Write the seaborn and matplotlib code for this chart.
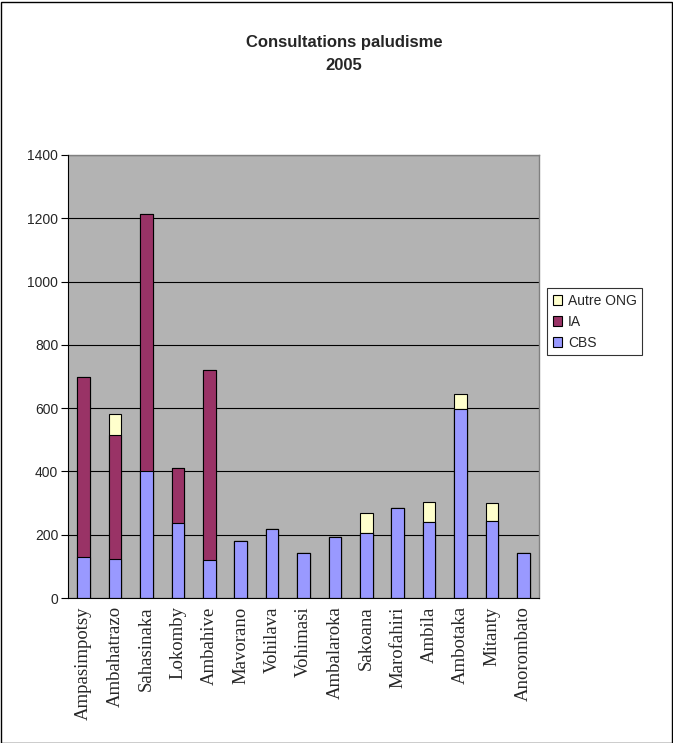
import matplotlib
matplotlib.use("Agg")
import matplotlib.pyplot as plt
from matplotlib.patches import Rectangle, Patch
import seaborn as sns
import pandas as pd
import numpy as np

categories = ["Ampasimpotsy", "Ambahatrazo", "Sahasinaka", "Lokomby", "Ambahive",
              "Mavorano", "Vohilava", "Vohimasi", "Ambalaroka", "Sakoana",
              "Marofahiri", "Ambila", "Ambotaka", "Mitanty", "Anorombato"]
cbs = [130, 122, 400, 237, 119, 180, 217, 143, 193, 206, 286, 240, 596, 244, 143]
ia = [570, 392, 813, 175, 600, 0, 0, 0, 0, 0, 0, 0, 0, 0, 0]
autre = [0, 66, 0, 0, 0, 0, 0, 0, 0, 63, 0, 63, 49, 55, 0]
yticks = [0, 200, 400, 600, 800, 1000, 1200, 1400]

c_cbs = "#9999FF"
c_ia = "#993366"
c_autre = "#FFFFCC"

df = pd.DataFrame({"cat": categories, "cbs": cbs, "ia": ia, "autre": autre})
df["lvl2"] = df["cbs"] + df["ia"]
df["lvl3"] = df["lvl2"] + df["autre"]

sns.set_style("white")
plt.rcParams['font.family'] = ['Liberation Sans', 'DejaVu Sans']

fig = plt.figure(figsize=(6.73, 7.43), dpi=100)
ax = fig.add_axes([68/673, 1-598/743, (539-68)/673, (598-155)/743])
ax.set_facecolor("#B3B3B3")

kw = dict(width=0.40, edgecolor="black", linewidth=0.8, ax=ax, saturation=1, order=categories)
sns.barplot(data=df, x="cat", y="lvl3", color=c_autre, **kw)
sns.barplot(data=df, x="cat", y="lvl2", color=c_ia, **kw)
sns.barplot(data=df, x="cat", y="cbs", color=c_cbs, **kw)

ax.set_ylim(0, 1400)
ax.set_xlim(-0.5, len(categories) - 0.5)
ax.set_yticks(yticks)
ax.set_yticklabels([str(v) for v in yticks], fontsize=10)
ax.yaxis.grid(True, color="black", linewidth=0.8)
ax.set_axisbelow(True)
ax.set_xlabel("")
ax.set_ylabel("")

ax.set_xticks(range(len(categories)))
ax.set_xticklabels(categories, rotation=90, fontsize=13.5, family=['Liberation Serif'])
ax.tick_params(axis="x", length=0, pad=6)
ax.set_xticks(np.arange(-0.5, len(categories), 1.0), minor=True)
ax.tick_params(axis="x", which="minor", length=5, width=0.8, color="black", direction="out")
ax.tick_params(axis="y", length=5, width=0.8, color="black", direction="out", left=True, pad=2)

for s in ["top", "right"]:
    ax.spines[s].set_color("#808080")
    ax.spines[s].set_linewidth(1.0)
ax.spines["left"].set_color("black")
ax.spines["bottom"].set_color("black")
ax.spines["left"].set_linewidth(0.8)
ax.spines["bottom"].set_linewidth(0.8)
ax.spines["left"].set_zorder(5)
ax.spines["bottom"].set_zorder(5)

handles = [Patch(facecolor=c_autre, edgecolor="black", linewidth=0.8, label="Autre ONG"),
           Patch(facecolor=c_ia, edgecolor="black", linewidth=0.8, label="IA"),
           Patch(facecolor=c_cbs, edgecolor="black", linewidth=0.8, label="CBS")]
leg = fig.legend(handles=handles, loc="center left", bbox_to_anchor=(547/673, 1-322/743),
                 fontsize=10, frameon=True, fancybox=False, edgecolor="black",
                 handlelength=0.7, handleheight=0.7, handletextpad=0.4,
                 borderpad=0.4, labelspacing=0.5, borderaxespad=0)
leg.get_frame().set_linewidth(0.8)

fig.text(344/673, 1-42/743, "Consultations paludisme", ha="center", va="center",
         fontsize=12, fontweight="bold")
fig.text(344/673, 1-66/743, "2005", ha="center", va="center",
         fontsize=12, fontweight="bold")

fig.patches.append(Rectangle((0.5/673, 0.5/743), 671/673, 741/743, transform=fig.transFigure,
                             fill=False, edgecolor="black", linewidth=1.0))

fig.savefig("out.png", dpi=100)
